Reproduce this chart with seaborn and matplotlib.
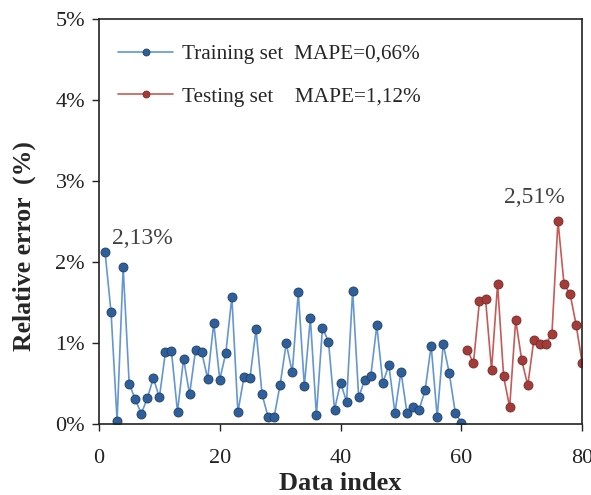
import numpy as np
import pandas as pd
import matplotlib
matplotlib.use("Agg")
import matplotlib.pyplot as plt
import seaborn as sns
from matplotlib.ticker import FuncFormatter

# relative error (%) per data index
train_idx = list(range(1, 61))
train_err = [2.13, 1.38, 0.04, 1.94, 0.50, 0.31, 0.13, 0.32, 0.57, 0.33,
             0.89, 0.90, 0.15, 0.81, 0.37, 0.92, 0.89, 0.56, 1.25, 0.55,
             0.88, 1.57, 0.15, 0.58, 0.57, 1.17, 0.37, 0.09, 0.09, 0.49,
             1.00, 0.64, 1.63, 0.47, 1.31, 0.11, 1.19, 1.02, 0.18, 0.51,
             0.28, 1.65, 0.33, 0.55, 0.59, 1.22, 0.51, 0.73, 0.14, 0.65,
             0.14, 0.21, 0.18, 0.42, 0.97, 0.09, 0.99, 0.63, 0.14, 0.02]
test_idx = list(range(61, 81))
test_err = [0.92, 0.75, 1.52, 1.55, 0.67, 1.73, 0.59, 0.21, 1.29, 0.79,
            0.48, 1.04, 0.99, 0.99, 1.12, 2.51, 1.73, 1.61, 1.23, 0.76]
labels = ["Training set  MAPE=0,66%", "Testing set    MAPE=1,12%"]
x_ticks = [0, 20, 40, 60, 80]
y_ticks = [0, 1, 2, 3, 4, 5]

sns.set_style("ticks")
plt.rcParams["font.family"] = ["Liberation Serif", "DejaVu Serif"]

df = pd.concat([
    pd.DataFrame({"idx": train_idx, "err": train_err, "set": labels[0]}),
    pd.DataFrame({"idx": test_idx, "err": test_err, "set": labels[1]}),
])

fig, ax = plt.subplots(figsize=(5.91, 4.95), dpi=100)
fig.subplots_adjust(left=0.1675, right=0.985, top=0.961, bottom=0.143)

line_cols = {labels[0]: "#6496D2", labels[1]: "#C65A57"}
mark_cols = {labels[0]: "#2F5F9A", labels[1]: "#A33B38"}
edge_cols = {labels[0]: "#1f3f66", labels[1]: "#7a2a28"}
for name, g in df.groupby("set", sort=False):
    sns.lineplot(data=g, x="idx", y="err", ax=ax, color=line_cols[name],
                 lw=1.2, marker="o", markersize=6.5,
                 markerfacecolor=mark_cols[name], markeredgecolor=edge_cols[name],
                 markeredgewidth=0.6, label=name)

ax.set_xlim(0, 80)
ax.set_ylim(0, 5)
ax.set_xticks(x_ticks)
ax.set_yticks(y_ticks)
ax.yaxis.set_major_formatter(FuncFormatter(lambda v, p: f"{v:.0f}%"))
ax.tick_params(labelsize=16, direction="out", length=5, width=1, colors="#222222")
ax.tick_params(axis="x", pad=13)
ax.tick_params(axis="y", pad=5)
for s in ax.spines.values():
    s.set_visible(True)
    s.set_color("#222222")
    s.set_linewidth(1.2)

ax.set_xlabel("Data index", fontsize=19, fontweight="bold", labelpad=2.5)
ax.set_ylabel("Relative error  (%)", fontsize=18.5, fontweight="bold", labelpad=8)
ax.yaxis.set_label_coords(-0.13, 0.44)

ax.text(2.15, 2.23, "2,13%", fontsize=17, color="#404040", ha="left", va="baseline")
ax.text(77.2, 2.73, "2,51%", fontsize=17, color="#404040", ha="right", va="baseline")

leg = ax.legend(loc="upper left", frameon=False, fontsize=15.3, handlelength=2.6,
                handletextpad=0.4, labelspacing=1.05, bbox_to_anchor=(0.0, 0.985))
for h in leg.legend_handles:
    h.set_markersize(5)

fig.savefig("out.png", dpi=100)
